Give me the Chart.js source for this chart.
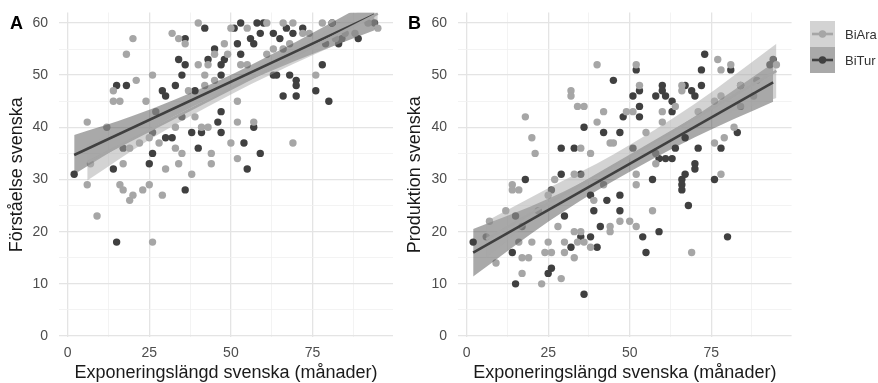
<!DOCTYPE html>
<html>
<head>
<meta charset="utf-8">
<script src="https://cdn.jsdelivr.net/npm/chart.js"></script>
<style>
  html, body { margin: 0; padding: 0; background: #fff; }
  #wrap { position: relative; width: 878px; height: 383px; overflow: hidden; }
  canvas { position: absolute; top: 0; }
  #cA { left: 0; }
  #cB { left: 400px; }
</style>
</head>
<body>
<div id="wrap">
  <canvas id="cA" width="400" height="383"></canvas>
  <canvas id="cB" width="478" height="383"></canvas>
</div>
<script>
// groups
const groups = ['BiAra', 'BiTur'];

// panel A: Förståelse svenska
const aAraX = [6,6,7,9,12,14,14,16,16,17,17,18,19,19,20,20,21,22,23,24,25,25,26,26,27,28,29,30,32,33,33,34,34,35,36,37,38,39,40,40,41,42,42,43,43,44,44,45,45,48,49,50,50,52,52,52,53,55,55,57,61,61,63,66,66,68,69,69,72,74,76,78,81,82,85,88,92,95];
const aAraY = [41,29,33,23,40,47,45,45,29,33,28,54,36,26,57,27,49,37,28,45,38,29,50,18,43,37,27,32,58,40,36,57,33,35,56,47,31,42,60,52,40,50,48,52,40,35,33,54,49,56,54,59,37,45,41,34,52,59,52,41,60,54,55,60,55,56,60,37,58,58,50,60,60,57,58,58,60,59];
const aTurX = [2,14,15,15,17,18,25,26,26,29,30,30,32,33,34,35,35,36,36,36,38,39,40,41,42,43,45,46,47,47,47,47,48,51,52,53,53,54,55,56,57,57,58,59,59,60,63,63,64,65,66,67,68,69,70,70,70,72,76,78,79,80,81,83,84,89,94];
const aTurY = [31,32,48,18,36,48,33,35,39,47,46,38,38,48,53,50,42,57,52,28,39,47,36,39,59,53,55,41,43,39,50,52,53,59,56,60,54,37,32,57,56,40,60,58,35,60,58,50,50,57,46,59,50,58,49,48,46,59,47,52,56,45,60,56,57,57,60];

// panel B: Produktion svenska
const bAraX = [6,7,9,12,14,14,16,16,17,17,17,18,19,20,20,21,22,23,24,25,25,26,27,28,29,30,30,32,32,33,33,33,34,34,35,35,36,36,38,38,39,40,40,42,42,44,44,44,45,47,49,50,51,52,52,52,52,53,55,57,58,58,60,60,64,66,66,69,71,76,76,77,78,78,78,79,81,82,84,84,88,89,95];
const bAraY = [19,22,14,24,29,28,28,18,21,15,12,42,15,38,18,35,24,10,16,27,18,16,30,21,11,18,16,47,46,31,20,15,44,18,36,20,44,18,35,17,26,52,41,43,29,37,21,20,37,22,43,22,43,52,31,29,21,48,39,24,35,33,43,41,44,48,47,16,43,45,37,53,51,46,31,38,52,40,48,44,46,49,52];
const bTurX = [2,14,15,15,18,25,26,26,29,29,30,32,33,35,35,36,36,38,38,39,40,41,42,43,45,47,47,47,48,51,51,52,53,53,53,54,55,57,58,59,59,60,60,61,61,63,63,63,64,66,66,66,67,67,67,68,69,70,70,70,71,72,72,73,76,78,80,81,83,84,93,94];
const bTurY = [18,16,23,10,30,12,13,28,36,31,23,17,36,31,19,40,8,27,19,24,17,21,39,26,49,39,27,24,42,36,46,51,47,44,42,19,16,30,46,20,34,48,47,46,34,45,43,34,36,30,29,28,48,38,31,25,47,46,33,32,36,51,48,54,30,36,19,51,39,48,52,53];

// fitted lines
const aFitX = { BiAra: [6, 95], BiTur: [2, 94] };
const aFitY = { BiAra: [33.3, 61.8], BiTur: [34.7, 61.6] };
const bFitX = { BiAra: [6, 95], BiTur: [2, 94] };
const bFitY = { BiAra: [18.5, 50.8], BiTur: [16.0, 48.6] };

// confidence bands
const aBandX = { BiAra: [6, 25, 50, 75, 95], BiTur: [2, 20, 45, 70, 94] };
const aBandHi = { BiAra: [36.8, 41.2, 48.5, 57.0, 64.4], BiTur: [38.5, 42.2, 48.6, 56.4, 64.6] };
const aBandLo = { BiAra: [29.8, 37.6, 46.3, 53.8, 59.2], BiTur: [31.0, 37.8, 46.0, 52.8, 58.6] };
const bBandX = { BiAra: [6, 25, 45, 70, 95], BiTur: [2, 25, 45, 70, 94] };
const bBandHi = { BiAra: [22.0, 28.3, 34.8, 44.5, 56.0], BiTur: [20.5, 26.3, 32.7, 42.1, 52.3] };
const bBandLo = { BiAra: [15.0, 24.5, 32.0, 40.3, 45.6], BiTur: [11.4, 21.9, 29.7, 38.1, 44.9] };

const xTicks = [0, 12.5, 25, 37.5, 50, 62.5, 75, 87.5];
const yTicks = [0, 5, 10, 15, 20, 25, 30, 35, 40, 45, 50, 55, 60];

const pointCol = { BiAra: '#a6a6a6', BiTur: '#404040' };
const bandCol = { BiAra: 'rgba(168,168,168,0.5)', BiTur: 'rgba(64,64,64,0.45)' };
const FONT = "'Liberation Sans', Arial, sans-serif";

function pts(xs, ys) { return xs.map((x, i) => ({ x: x, y: ys[i] })); }

function buildDatasets(src) {
  const ds = [];
  groups.forEach(g => {
    ds.push({ type: 'line', data: pts(src.fitX[g], src.fitY[g]), borderColor: pointCol[g],
      borderWidth: 2.6, pointRadius: 0, fill: false, order: 0 });
  });
  groups.forEach(g => {
    const lo = ds.length + 1;
    ds.push({ type: 'line', data: pts(src.bandX[g], src.bandHi[g]), borderWidth: 0, pointRadius: 0,
      cubicInterpolationMode: 'monotone', backgroundColor: bandCol[g], fill: lo, order: 1 });
    ds.push({ type: 'line', data: pts(src.bandX[g], src.bandLo[g]), borderWidth: 0, pointRadius: 0,
      cubicInterpolationMode: 'monotone', fill: false, order: 1 });
  });
  groups.forEach(g => {
    ds.push({ type: 'scatter', data: pts(src.x[g], src.y[g]), backgroundColor: pointCol[g],
      borderWidth: 0, pointRadius: 3.7, order: 2 });
  });
  return ds;
}

function gridColor(ctx, step) {
  return ctx.tick && ctx.tick.value % step === 0 ? '#e4e4e4' : '#f0f0f0';
}
function gridWidth(ctx, step) {
  return ctx.tick && ctx.tick.value % step === 0 ? 1.3 : 0.8;
}
function noPad(s) {
  s.paddingTop = 0; s.paddingBottom = 0; s.paddingLeft = 0; s.paddingRight = 0;
}

function makeChart(id, src, opts) {
  const labelPlugin = {
    id: 'panelLabel',
    afterDraw(chart) {
      const c = chart.ctx;
      c.save();
      c.fillStyle = '#000';
      c.font = 'bold 18px ' + FONT;
      c.textBaseline = 'middle';
      c.textAlign = 'left';
      c.fillText(opts.panel, opts.panelX, 24);
      if (opts.legend) {
        groups.forEach((g, i) => {
          const y0 = 21 + i * 26;
          c.fillStyle = bandCol[g];
          c.fillRect(410, y0, 25, 26);
          c.strokeStyle = pointCol[g];
          c.lineWidth = 2.6;
          c.beginPath();
          c.moveTo(412, y0 + 13);
          c.lineTo(433, y0 + 13);
          c.stroke();
          c.fillStyle = pointCol[g];
          c.beginPath();
          c.arc(422.5, y0 + 13, 3.7, 0, Math.PI * 2);
          c.fill();
          c.fillStyle = '#333';
          c.font = '13px ' + FONT;
          c.fillText(g, 445, y0 + 14);
        });
      }
      c.restore();
    }
  };

  return new Chart(document.getElementById(id), {
    data: { datasets: buildDatasets(src) },
    plugins: [labelPlugin],
    options: {
      responsive: false,
      animation: false,
      layout: { padding: { top: 12.5, bottom: 0, left: 0, right: opts.padRight } },
      plugins: { legend: { display: false }, tooltip: { enabled: false } },
      scales: {
        x: {
          type: 'linear', min: -2.65, max: 99.65,
          afterBuildTicks: s => { s.ticks = xTicks.map(v => ({ value: v })); },
          afterFit: s => { s.height = 46; noPad(s); },
          border: { display: false },
          grid: { drawTicks: false, color: c => gridColor(c, 25), lineWidth: c => gridWidth(c, 25) },
          ticks: { padding: 8, color: '#4d4d4d', font: { family: FONT, size: 14 },
            callback: v => (v % 25 === 0 ? v : '') },
          title: { display: true, text: 'Exponeringslängd svenska (månader)', color: '#1a1a1a',
            font: { family: FONT, size: 18, lineHeight: 1.1 }, padding: { top: 0, bottom: 0 } }
        },
        y: {
          type: 'linear', min: -0.19, max: 62,
          afterBuildTicks: s => { s.ticks = yTicks.map(v => ({ value: v })); },
          afterFit: s => { s.width = opts.yWidth; noPad(s); },
          border: { display: false },
          grid: { drawTicks: false, color: c => gridColor(c, 10), lineWidth: c => gridWidth(c, 10) },
          ticks: { padding: 11, color: '#4d4d4d', font: { family: FONT, size: 14 },
            callback: v => (v % 10 === 0 ? v : '') },
          title: { display: true, text: opts.yTitle, color: '#1a1a1a',
            font: { family: FONT, size: 18, lineHeight: 1.1 }, padding: { top: opts.yTitlePad, bottom: 0 } }
        }
      }
    }
  });
}

makeChart('cA', {
  x: { BiAra: aAraX, BiTur: aTurX }, y: { BiAra: aAraY, BiTur: aTurY },
  fitX: aFitX, fitY: aFitY, bandX: aBandX, bandHi: aBandHi, bandLo: aBandLo
}, { panel: 'A', panelX: 10, yTitle: 'Förståelse svenska', yWidth: 59, yTitlePad: 7.6, padRight: 7, legend: false });

makeChart('cB', {
  x: { BiAra: bAraX, BiTur: bTurX }, y: { BiAra: bAraY, BiTur: bTurY },
  fitX: bFitX, fitY: bFitY, bandX: bBandX, bandHi: bBandHi, bandLo: bBandLo
}, { panel: 'B', panelX: 8, yTitle: 'Produktion svenska', yWidth: 58, yTitlePad: 5.6, padRight: 86.4, legend: true });
</script>
</body>
</html>
